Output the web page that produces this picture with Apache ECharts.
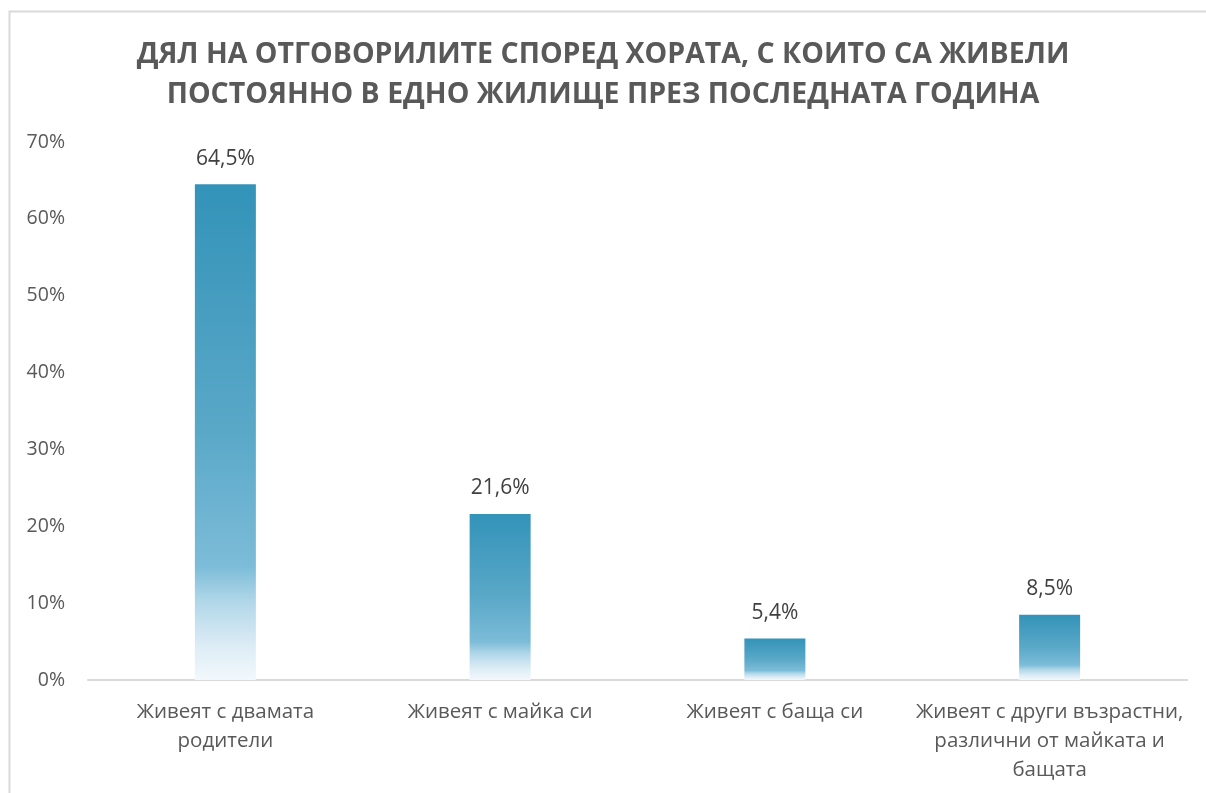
<!DOCTYPE html>
<html>
<head>
<meta charset="utf-8">
<script src="https://cdn.jsdelivr.net/npm/echarts@6/dist/echarts.min.js"></script>
<style>
    html, body { margin: 0; padding: 0; background: #fff; }
    #chart { width: 1206px; height: 793px; }
</style>
</head>
<body>
<div id="chart"></div>
<script>
const titleText = 'ДЯЛ НА ОТГОВОРИЛИТЕ СПОРЕД ХОРАТА, С КОИТО СА ЖИВЕЛИ\nПОСТОЯННО В ЕДНО ЖИЛИЩЕ ПРЕЗ ПОСЛЕДНАТА ГОДИНА'
const categories = [
    'Живеят с двамата\nродители',
    'Живеят с майка си',
    'Живеят с баща си',
    'Живеят с други възрастни,\nразлични от майката и\nбащата'
]
const shares = [64.5, 21.6, 5.4, 8.5]
const yTicks = [0, 10, 20, 30, 40, 50, 60, 70]

const fontFamily = '"Open Sans", "Noto Sans", sans-serif'

// градиент отгоре надолу, изсветлява към основата
const barGradient = new echarts.graphic.LinearGradient(0, 0, 0, 1, [
    { offset: 0, color: '#3393b9' },
    { offset: 0.5, color: '#5aa8c8' },
    { offset: 0.77, color: '#7cbcd8' },
    { offset: 0.84, color: '#b0d6e8' },
    { offset: 0.93, color: '#dcecf5' },
    { offset: 1, color: '#f3f8fc' }
])

const chart = echarts.init(document.getElementById('chart'))

const options = {
    backgroundColor: '#fff',
    animation: false,
    title: {
        text: titleText,
        left: 'center',
        top: 30,
        textStyle: {
            fontFamily: fontFamily,
            fontSize: 28.5,
            fontWeight: 'bold',
            color: '#595959',
            lineHeight: 40
        }
    },
    graphic: [
        {
            type: 'rect',
            left: 7,
            top: 9,
            shape: { width: 1400, height: 1000 },
            style: { fill: 'none', stroke: '#d9d9d9', lineWidth: 2 },
            silent: true
        }
    ],
    grid: {
        left: 88,
        right: 19,
        top: 142,
        bottom: 113
    },
    xAxis: {
        type: 'category',
        data: categories,
        axisTick: { show: false },
        axisLine: {
            lineStyle: { color: '#d9d9d9', width: 2 }
        },
        axisLabel: {
            interval: 0,
            margin: 18,
            color: '#595959',
            fontFamily: fontFamily,
            fontSize: 20.5,
            lineHeight: 29
        }
    },
    yAxis: {
        type: 'value',
        min: yTicks[0],
        max: yTicks[yTicks.length - 1],
        interval: 10,
        axisLine: { show: false },
        axisTick: { show: false },
        splitLine: { show: false },
        axisLabel: {
            margin: 23,
            color: '#595959',
            fontFamily: fontFamily,
            fontSize: 19.5,
            formatter: '{value}%'
        }
    },
    series: [
        {
            type: 'bar',
            data: shares,
            barWidth: 61,
            itemStyle: { color: barGradient },
            label: {
                show: true,
                position: 'top',
                distance: 15,
                color: '#404040',
                fontFamily: fontFamily,
                fontSize: 21,
                formatter: p => String(p.value).replace('.', ',') + '%'
            }
        }
    ]
}

chart.setOption(options)
</script>
</body>
</html>
